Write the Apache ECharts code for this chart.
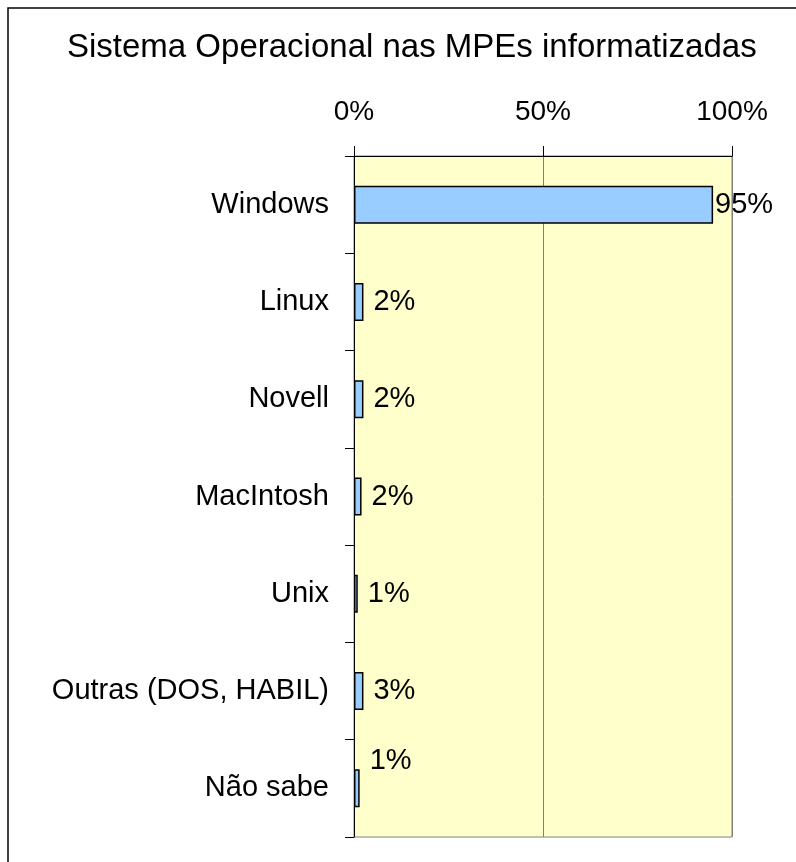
<!DOCTYPE html>
<html style="height: 100%">
<head>
<meta charset="utf-8">
<script type="text/javascript" src="https://cdn.jsdelivr.net/npm/echarts@6/dist/echarts.min.js"></script>
</head>
<body style="height: 100%; margin: 0; background: #fff">
<div id="container" style="width: 796px; height: 862px"></div>
<script type="text/javascript">
var categories = ['Windows', 'Linux', 'Novell', 'MacIntosh', 'Unix', 'Outras (DOS, HABIL)', 'Não sabe'];
var values = [95, 2.5, 2.5, 2, 1, 2.5, 1.5];
var valueLabels = ['95%', '2%', '2%', '2%', '1%', '3%', '1%'];
var xTicks = [0, 50, 100];

var FONT = 'Liberation Sans, Arial, sans-serif';

var barData = [];
for (var i = 0; i < values.length; i++) {
    var item = {value: values[i], label: {formatter: valueLabels[i]}};
    if (i == 0) item.label.distance = 2;
    if (i == values.length - 1) item.label.offset = [0, -27];
    barData.push(item);
}

var dom = document.getElementById('container');
var myChart = echarts.init(dom);
var option = {
    backgroundColor: '#ffffff',
    animation: false,
    title: {
        text: 'Sistema Operacional nas MPEs informatizadas',
        left: 62,
        top: 26,
        textStyle: {fontFamily: FONT, fontSize: 33, fontWeight: 'normal', color: '#000'}
    },
    graphic: [{
        type: 'rect',
        shape: {x: 8, y: 8, width: 820, height: 900},
        style: {fill: 'none', stroke: '#000', lineWidth: 1.5},
        silent: true
    }],
    grid: {
        left: 354,
        right: 64,
        top: 156,
        bottom: 25,
        show: true,
        backgroundColor: '#FFFFCC',
        borderColor: '#808080',
        borderWidth: 1
    },
    xAxis: {
        type: 'value',
        position: 'top',
        min: xTicks[0],
        max: xTicks[xTicks.length - 1],
        interval: 50,
        axisLine: {show: true, lineStyle: {color: '#000', width: 1}},
        axisTick: {show: true, length: 10, lineStyle: {color: '#000'}},
        splitLine: {show: true, lineStyle: {color: '#808080', width: 1}},
        axisLabel: {
            formatter: '{value}%',
            margin: 30,
            fontFamily: FONT,
            fontSize: 28,
            color: '#000'
        }
    },
    yAxis: {
        type: 'category',
        inverse: true,
        data: categories,
        axisLine: {show: true, lineStyle: {color: '#000', width: 1}},
        axisTick: {show: true, length: 9, lineStyle: {color: '#000'}},
        axisLabel: {
            margin: 25,
            fontFamily: FONT,
            fontSize: 29,
            color: '#000'
        }
    },
    series: [{
        type: 'bar',
        barWidth: 38,
        data: barData,
        itemStyle: {color: '#99CCFF', borderColor: '#000', borderWidth: 1.5},
        label: {
            show: true,
            position: 'right',
            distance: 10,
            fontFamily: FONT,
            fontSize: 29,
            color: '#000'
        }
    }]
};
myChart.setOption(option, true);
</script>
</body>
</html>
